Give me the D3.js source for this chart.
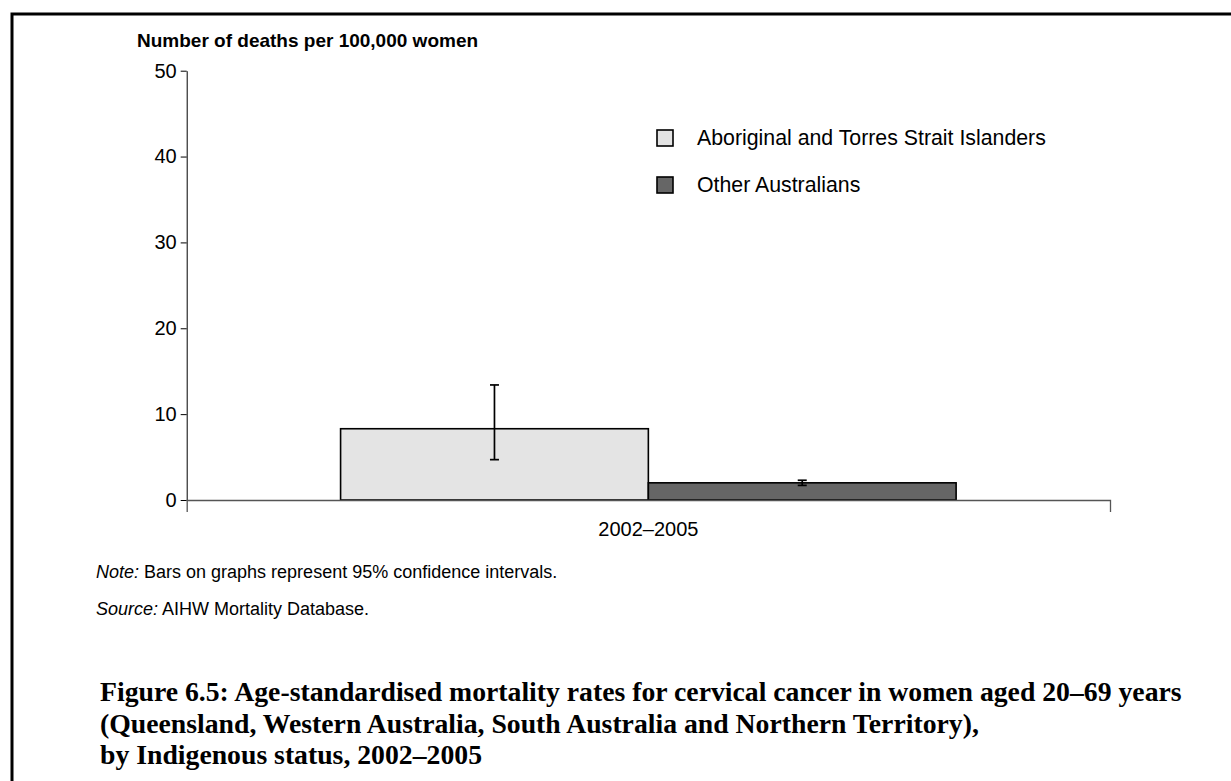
<!DOCTYPE html>
<html>
<head>
<meta charset="utf-8">
<script src="https://cdn.jsdelivr.net/npm/d3@7"></script>
<style>
  body { margin: 0; background: #fff; }
  svg { display: block; }
  text { font-family: "Liberation Sans", Arial, sans-serif; fill: #000; }
</style>
</head>
<body>
<div id="chart"></div>
<script>
const categories = ["2002–2005"];
const seriesNames = ["Aboriginal and Torres Strait Islanders", "Other Australians"];
const rates = [8.3, 2.0];
const ciLower = [4.7, 1.7];
const ciUpper = [13.4, 2.3];
const yTicks = [0, 10, 20, 30, 40, 50];
const yTitle = "Number of deaths per 100,000 women";
const noteLines = [
  ["Note:", " Bars on graphs represent 95% confidence intervals."],
  ["Source:", " AIHW Mortality Database."]
];
const titleLines = [
  "Figure 6.5: Age-standardised mortality rates for cervical cancer in women aged 20–69 years",
  "(Queensland, Western Australia, South Australia and Northern Territory),",
  "by Indigenous status, 2002–2005"
];

const width = 1231,
  height = 781;
const colors = ["#e4e4e4", "#666666"];

const svg = d3
  .select("#chart")
  .append("svg")
  .attr("width", width)
  .attr("height", height);

// frame (open to the right and bottom)
svg
  .append("path")
  .attr("d", `M12,${height + 5}V14H${width + 5}`)
  .attr("fill", "none")
  .attr("stroke", "#000")
  .attr("stroke-width", 3);

const plot = { left: 186.7, right: 1110, top: 70.7, bottom: 500 };

const y = d3
  .scaleLinear()
  .domain([0, 50])
  .range([plot.bottom, plot.top]);

const x0 = d3
  .scaleBand()
  .domain(categories)
  .range([plot.left, plot.right])
  .paddingInner(0)
  .paddingOuter(0.25);

const x1 = d3
  .scaleBand()
  .domain(seriesNames)
  .range([0, x0.bandwidth()])
  .padding(0);

// y axis
const yAxis = svg
  .append("g")
  .attr("transform", `translate(${plot.left},0)`)
  .call(d3.axisLeft(y).tickValues(yTicks).tickSize(6).tickSizeOuter(0).tickPadding(4));
yAxis.selectAll("text").style("font-size", "20px");
yAxis.selectAll("line, path").attr("stroke", "#000");

// bars
const rows = seriesNames.map((s, i) => ({
  cat: categories[0],
  series: s,
  value: rates[i],
  lo: ciLower[i],
  hi: ciUpper[i],
  color: colors[i]
}));

const barG = svg.append("g");
barG
  .selectAll("rect")
  .data(rows)
  .enter()
  .append("rect")
  .attr("x", (d) => x0(d.cat) + x1(d.series))
  .attr("y", (d) => y(d.value))
  .attr("width", x1.bandwidth())
  .attr("height", (d) => y(0) - y(d.value))
  .attr("fill", (d) => d.color)
  .attr("stroke", "#000")
  .attr("stroke-width", 1.6);

// x axis (drawn over bar bottoms)
const xAxis = svg
  .append("g")
  .attr("transform", `translate(0,${plot.bottom})`)
  .call(d3.axisBottom(x0).tickSizeInner(0).tickSizeOuter(12).tickPadding(22));
xAxis.select(".domain").attr("stroke", "#555").attr("stroke-width", 1.3);
xAxis.selectAll("text").style("font-size", "20px");

// error bars
const cap = 4.5;
const err = svg
  .append("g")
  .selectAll("g")
  .data(rows)
  .enter()
  .append("g")
  .attr("stroke", "#000")
  .attr("stroke-width", 1.7);
const cx = (d) => x0(d.cat) + x1(d.series) + x1.bandwidth() / 2;
err
  .append("line")
  .attr("x1", cx)
  .attr("x2", cx)
  .attr("y1", (d) => y(d.lo))
  .attr("y2", (d) => y(d.hi));
err
  .append("line")
  .attr("x1", (d) => cx(d) - cap)
  .attr("x2", (d) => cx(d) + cap)
  .attr("y1", (d) => y(d.hi))
  .attr("y2", (d) => y(d.hi));
err
  .append("line")
  .attr("x1", (d) => cx(d) - cap)
  .attr("x2", (d) => cx(d) + cap)
  .attr("y1", (d) => y(d.lo))
  .attr("y2", (d) => y(d.lo));

// y axis title
svg
  .append("text")
  .attr("x", 137)
  .attr("y", 47)
  .style("font-size", "19px")
  .style("font-weight", "bold")
  .text(yTitle);

// legend
const legend = svg
  .selectAll(".legend")
  .data(seriesNames)
  .enter()
  .append("g")
  .attr("class", "legend")
  .attr("transform", (d, i) => `translate(657,${138 + i * 47})`);
legend
  .append("rect")
  .attr("x", 0)
  .attr("y", -8)
  .attr("width", 16)
  .attr("height", 16)
  .attr("fill", (d, i) => colors[i])
  .attr("stroke", "#000")
  .attr("stroke-width", 1.6);
legend
  .append("text")
  .attr("x", 40)
  .attr("dy", "0.35em")
  .style("font-size", "21.3px")
  .text((d) => d);

// note and source
const notes = svg
  .selectAll(".note")
  .data(noteLines)
  .enter()
  .append("text")
  .attr("class", "note")
  .attr("x", 96)
  .attr("y", (d, i) => 578 + i * 37)
  .style("font-size", "18px");
notes.append("tspan").style("font-style", "italic").text((d) => d[0]);
notes.append("tspan").text((d) => d[1]);

// figure caption
const caption = svg
  .selectAll(".caption")
  .data(titleLines)
  .enter()
  .append("text")
  .attr("class", "caption")
  .attr("x", 100)
  .attr("y", (d, i) => 701 + i * 31.5)
  .style("font-family", "'Liberation Serif', 'Times New Roman', serif")
  .style("font-weight", "bold")
  .style("font-size", "24px")
  .text((d) => d);

// size caption so the first line spans the same width as in the figure
const first = caption.node();
const fs = (24 * 1082) / first.getComputedTextLength();
caption.style("font-size", fs + "px");
</script>
</body>
</html>
